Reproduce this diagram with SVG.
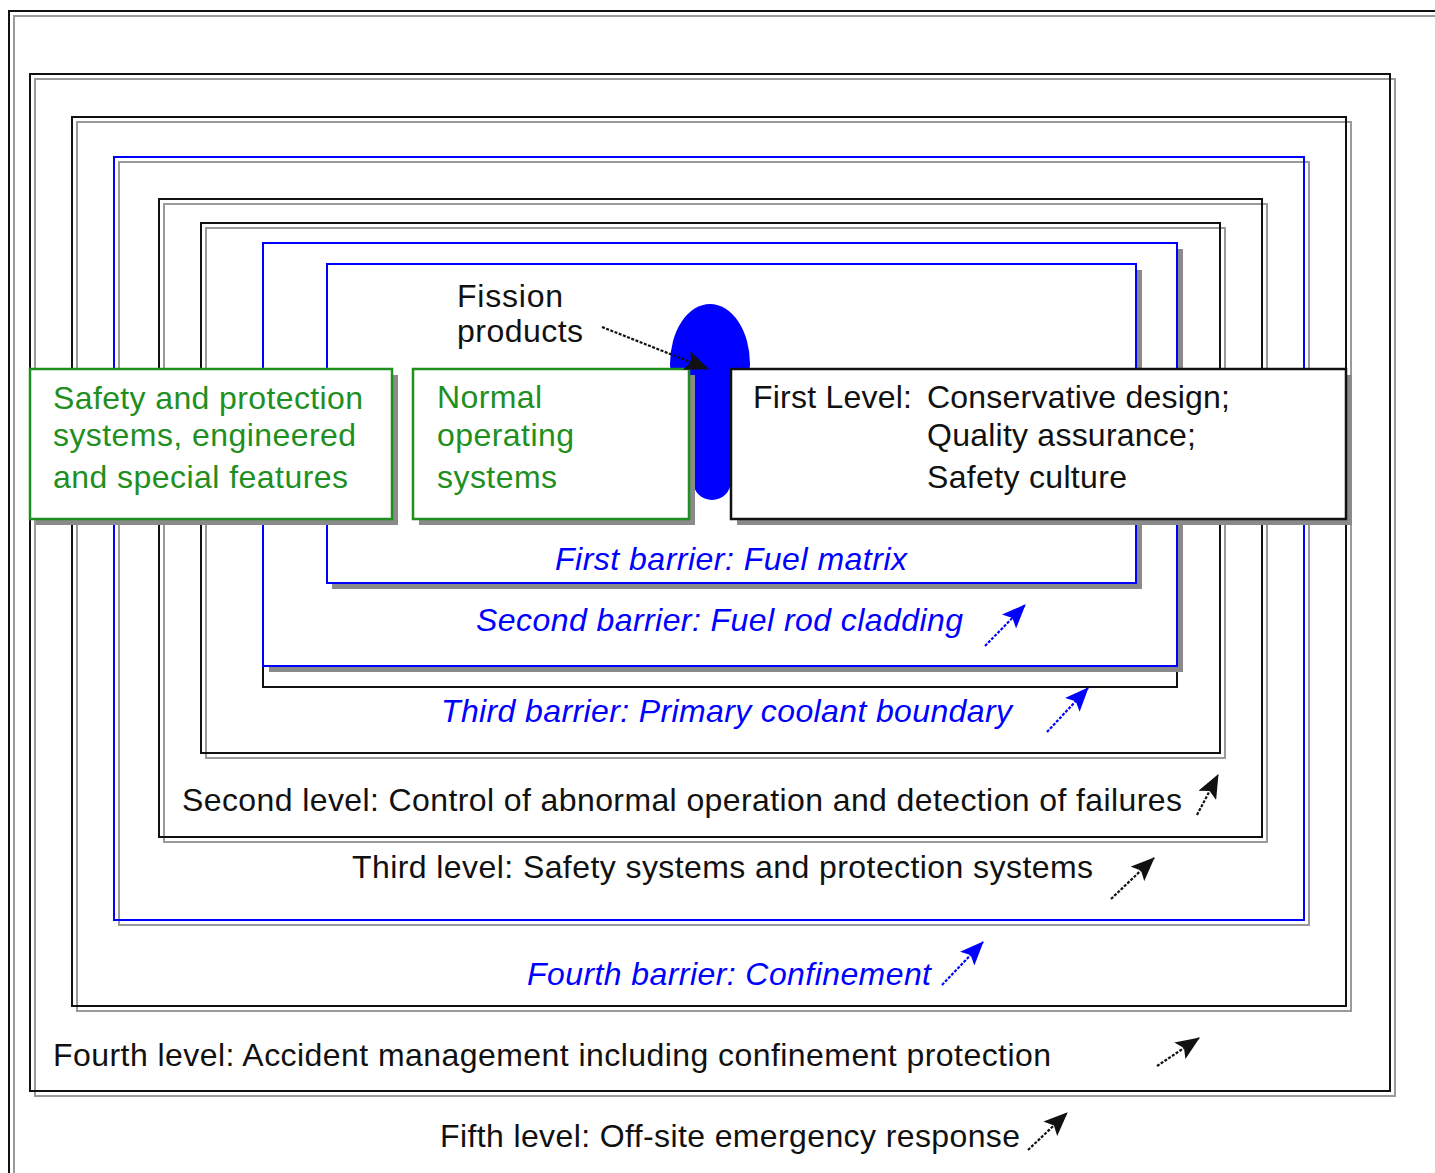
<svg xmlns="http://www.w3.org/2000/svg" width="1435" height="1173" viewBox="0 0 1435 1173">
  <style>
    .frame { fill: none; stroke: #111; stroke-width: 2; }
    .frameb { fill: none; stroke: #0000ff; stroke-width: 2; }
    .shl { fill: none; stroke: #9a9a9a; stroke-width: 2; }
    .shf { fill: #8a8a8a; stroke: none; }
    .boxb { fill: #fff; stroke: #0000ff; stroke-width: 2; }
    .boxg { fill: #fff; stroke: #1f8f1f; stroke-width: 2.5; }
    .boxk { fill: #fff; stroke: #111; stroke-width: 2.5; }
    text { font-family: "Liberation Sans", Arial, sans-serif; font-size: 32px; }
    .tk { fill: #111; }
    .tb { fill: #0000ff; font-style: italic; }
    .tg { fill: #1f8f1f; }
    .ak { stroke: #111; stroke-width: 2.2; stroke-dasharray: 3 1.5; fill: none; }
    .ab { stroke: #0000ff; stroke-width: 2.2; stroke-dasharray: 3 1.5; fill: none; }
  </style>
  <defs>
    <marker id="headK" viewBox="0 0 24 20" refX="23" refY="10" markerWidth="24" markerHeight="20" markerUnits="userSpaceOnUse" orient="auto">
      <path d="M0,0 L24,10 L0,20 L5,10 z" fill="#111"/>
    </marker>
    <marker id="headB" viewBox="0 0 24 20" refX="23" refY="10" markerWidth="24" markerHeight="20" markerUnits="userSpaceOnUse" orient="auto">
      <path d="M0,0 L24,10 L0,20 L5,10 z" fill="#0000ff"/>
    </marker>
  </defs>
  <rect width="1435" height="1173" fill="#fff"/>

  <g id="fifth-level">
    <rect class="shl" x="14" y="16" width="1440" height="1180"/>
    <rect class="frame" x="9" y="11" width="1440" height="1180"/>
    <text class="tk" x="440" y="1147" textLength="580" lengthAdjust="spacing">Fifth level:  Off-site emergency response</text>
  </g>

  <g id="fourth-level">
    <rect class="shl" x="35" y="79" width="1360" height="1017"/>
    <rect class="frame" x="30" y="74" width="1360" height="1017"/>
    <text class="tk" x="53" y="1066" textLength="998" lengthAdjust="spacing">Fourth level:  Accident management including confinement protection</text>
  </g>

  <g id="fourth-barrier">
    <rect class="shl" x="77" y="122" width="1274" height="889"/>
    <rect class="frame" x="72" y="117" width="1274" height="889"/>
    <text class="tb" x="527" y="985" textLength="404" lengthAdjust="spacing">Fourth barrier: Confinement</text>
  </g>

  <g id="third-level">
    <rect class="shl" x="119" y="162" width="1190" height="763"/>
    <rect class="frameb" x="114" y="157" width="1190" height="763"/>
    <text class="tk" x="352" y="878" textLength="741" lengthAdjust="spacing">Third level:  Safety systems and protection systems</text>
  </g>

  <g id="second-level">
    <rect class="shl" x="164" y="204" width="1103" height="638"/>
    <rect class="frame" x="159" y="199" width="1103" height="638"/>
    <text class="tk" x="182" y="811" textLength="1000" lengthAdjust="spacing">Second level:  Control of abnormal operation and detection of failures</text>
  </g>

  <g id="third-barrier">
    <rect class="shl" x="206" y="228" width="1019" height="530"/>
    <rect class="frame" x="201" y="223" width="1019" height="530"/>
    <text class="tb" x="441" y="722" textLength="571" lengthAdjust="spacing">Third barrier: Primary coolant boundary</text>
  </g>

  <g id="coolant-boundary">
    <rect class="frame" x="263" y="243" width="914" height="444"/>
  </g>

  <g id="second-barrier">
    <rect class="shf" x="269" y="249" width="914" height="423"/>
    <rect class="boxb" x="263" y="243" width="914" height="423"/>
    <text class="tb" x="476" y="631" textLength="487" lengthAdjust="spacing">Second barrier: Fuel rod cladding</text>
  </g>

  <g id="first-barrier">
    <rect class="shf" x="332" y="270" width="810" height="319"/>
    <rect class="boxb" x="327" y="264" width="809" height="319"/>
    <text class="tb" x="555" y="570" textLength="352" lengthAdjust="spacing">First barrier: Fuel matrix</text>
  </g>

  <g id="fuel">
    <ellipse cx="710" cy="364" rx="40" ry="60" fill="#0000ff"/>
    <rect x="693" y="360" width="38" height="140" rx="19" ry="19" fill="#0000ff"/>
  </g>

  <g id="fission-products">
    <text class="tk" x="457" y="307" textLength="106" lengthAdjust="spacing">Fission</text>
    <text class="tk" x="457" y="342" textLength="126" lengthAdjust="spacing">products</text>
  </g>

  <g id="safety-systems">
    <rect class="shf" x="36" y="375" width="362" height="150"/>
    <rect class="boxg" x="30" y="369" width="362" height="150"/>
    <text class="tg" x="53" y="409" textLength="310" lengthAdjust="spacing">Safety and protection</text>
    <text class="tg" x="53" y="446" textLength="303" lengthAdjust="spacing">systems, engineered</text>
    <text class="tg" x="53" y="488" textLength="295" lengthAdjust="spacing">and special features</text>
  </g>

  <g id="normal-systems">
    <rect class="shf" x="419" y="375" width="276" height="150"/>
    <rect class="boxg" x="413" y="369" width="276" height="150"/>
    <text class="tg" x="437" y="408" textLength="105" lengthAdjust="spacing">Normal</text>
    <text class="tg" x="437" y="446" textLength="137" lengthAdjust="spacing">operating</text>
    <text class="tg" x="437" y="488" textLength="120" lengthAdjust="spacing">systems</text>
  </g>

  <g id="first-level">
    <rect class="shf" x="737" y="375" width="615" height="150"/>
    <rect class="boxk" x="731" y="369" width="615" height="150"/>
    <text class="tk" x="753" y="408" textLength="159" lengthAdjust="spacing">First Level:</text>
    <text class="tk" x="927" y="408" textLength="303" lengthAdjust="spacing">Conservative design;</text>
    <text class="tk" x="927" y="446" textLength="269" lengthAdjust="spacing">Quality assurance;</text>
    <text class="tk" x="927" y="488" textLength="200" lengthAdjust="spacing">Safety culture</text>
  </g>

  <g id="connectors">
    <line class="ak" x1="602" y1="327" x2="708" y2="369" marker-end="url(#headK)"/>
    <line class="ab" x1="985" y1="646" x2="1025" y2="605" marker-end="url(#headB)"/>
    <line class="ab" x1="1047" y1="732" x2="1088" y2="688" marker-end="url(#headB)"/>
    <line class="ak" x1="1197" y1="815" x2="1218" y2="775" marker-end="url(#headK)"/>
    <line class="ak" x1="1111" y1="899" x2="1154" y2="858" marker-end="url(#headK)"/>
    <line class="ab" x1="942" y1="985" x2="983" y2="942" marker-end="url(#headB)"/>
    <line class="ak" x1="1157" y1="1066" x2="1199" y2="1038" marker-end="url(#headK)"/>
    <line class="ak" x1="1028" y1="1150" x2="1067" y2="1113" marker-end="url(#headK)"/>
  </g>
</svg>
